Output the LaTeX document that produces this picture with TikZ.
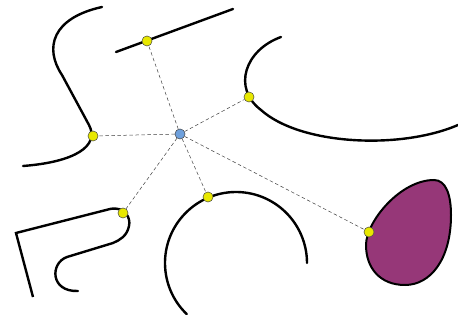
\documentclass[tikz,border=0pt]{standalone}
\begin{document}
\begin{tikzpicture}[x=1pt,y=-1pt,
  curve/.style={line width=2.4pt,black,line cap=round},
  link/.style={dash pattern=on 3.5pt off 2.5pt,line width=0.5pt,black!75},
  ydot/.style={circle,fill={rgb,255:red,232;green,232;blue,0},draw=black!70,line width=0.4pt,minimum size=10pt,inner sep=0pt},
  bdot/.style={circle,fill={rgb,255:red,110;green,160;blue,220},draw=black!70,line width=0.4pt,minimum size=10pt,inner sep=0pt}]
\useasboundingbox[fill=white] (0,0) rectangle (458,320);
% curves
\draw[curve] (102,7) .. controls (52,18) and (44,48) .. (62,75) -- (89,125) .. controls (100,146) and (75,162) .. (23,166);
\draw[curve] (116,52) -- (233,9);
\draw[curve] (281,37) .. controls (245,50) and (232,88) .. (261,110) .. controls (300,145) and (400,150) .. (458,125);
\draw[curve,line cap=butt,line join=miter] (33,297) -- (16,233) -- (110,209);
\draw[curve] (110,209) .. controls (125,206) and (131,218) .. (129,226) .. controls (127,236) and (120,240) .. (113,243) -- (67,257) .. controls (50,263) and (50,292) .. (78,291);
\draw[curve] (236,263) ++(134:71) arc[start angle=134,end angle=360,radius=71];
\draw[line width=2pt,black,fill={rgb,255:red,150;green,55;blue,120}] (434,180) .. controls (446,180) and (451,195) .. (451,215) .. controls (451,260) and (430,285) .. (405,285) .. controls (380,285) and (366,268) .. (366,245) .. controls (366,222) and (400,180) .. (434,180) -- cycle;
% dots
\node[bdot] (c) at (180,134) {};
\node[ydot] (p1) at (147,41) {};
\node[ydot] (p2) at (93,136) {};
\node[ydot] (p3) at (249,97) {};
\node[ydot] (p4) at (123,213) {};
\node[ydot] (p5) at (208,197) {};
\node[ydot] (p6) at (369,232) {};
\foreach \p in {p1,p2,p3,p4,p5,p6} \draw[link] (c) -- (\p);
\foreach \p in {p1,p2,p3,p4,p5,p6} \node[ydot] at (\p) {};
\node[bdot] at (c) {};
\end{tikzpicture}
\end{document}
